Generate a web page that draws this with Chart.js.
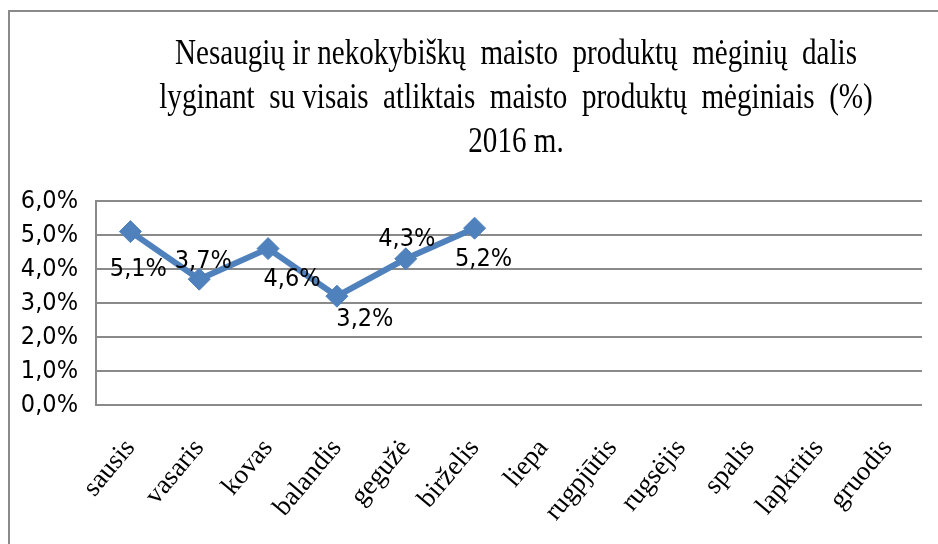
<!DOCTYPE html>
<html>
<head>
<meta charset="utf-8">
<script src="https://cdn.jsdelivr.net/npm/chart.js@4.4.1/dist/chart.umd.min.js"></script>
<style>
  body { margin: 0; background: #fff; }
  #wrap { width: 938px; height: 544px; position: relative; }
</style>
</head>
<body>
<div id="wrap"><canvas id="chart"></canvas></div>
<script>
// Months of 2016 (x axis)
var months = ['sausis', 'vasaris', 'kovas', 'balandis', 'gegužė', 'birželis',
  'liepa', 'rugpjūtis', 'rugsėjis', 'spalis', 'lapkritis', 'gruodis'];

// Share of unsafe / low-quality samples, % (only first half-year known)
var shares = [5.1, 3.7, 4.6, 3.2, 4.3, 5.2];

// Y axis range, %
var yMin = 0;
var yMax = 6;
var yStep = 1;

// Title lines
var titleLines = [
  'Nesaugių ir nekokybiškų  maisto  produktų  mėginių  dalis',
  'lyginant  su visais  atliktais  maisto  produktų  mėginiais  (%)',
  '2016 m.'
];

// where each value label sits relative to its point (dx, dy)
var labelShift = [[8, 38], [4, -18], [24, 31], [28, 23], [1, -19], [9, 31]];

var blue = '#4F81BD';
var gridGray = '#8a8a8a';
var narrow = "'Liberation Sans Narrow', 'DejaVu Sans Condensed', sans-serif";
var serif = "'Liberation Serif', 'Times New Roman', serif";

function pct(v) {
  return v.toFixed(1).replace('.', ',') + '%';
}

// outer frame + condensed title
var framePlugin = {
  id: 'frame',
  beforeDraw: function (chart) {
    var ctx = chart.ctx;
    ctx.save();
    ctx.fillStyle = '#fff';
    ctx.fillRect(0, 0, chart.width, chart.height);
    ctx.strokeStyle = gridGray;
    ctx.lineWidth = 2;
    ctx.beginPath();
    ctx.moveTo(9, chart.height);
    ctx.lineTo(9, 11);
    ctx.lineTo(chart.width, 11);
    ctx.stroke();

    ctx.font = '36px ' + serif;
    ctx.fillStyle = '#000';
    ctx.textAlign = 'center';
    ctx.textBaseline = 'alphabetic';
    var sx = 682 / ctx.measureText(titleLines[0]).width;
    var base = [64, 108, 152];
    for (var i = 0; i < titleLines.length; i++) {
      ctx.save();
      ctx.translate(516, base[i]);
      ctx.scale(sx, 1);
      ctx.fillText(titleLines[i], 0, 0);
      ctx.restore();
    }
    ctx.restore();
  }
};

// value labels next to the points
var valueLabels = {
  id: 'valueLabels',
  afterDatasetsDraw: function (chart) {
    var ctx = chart.ctx;
    var meta = chart.getDatasetMeta(0);
    ctx.save();
    ctx.font = '25px ' + narrow;
    ctx.fillStyle = '#000';
    ctx.textAlign = 'center';
    ctx.textBaseline = 'middle';
    meta.data.forEach(function (pt, i) {
      var s = labelShift[i] || [0, -20];
      ctx.fillText(pct(shares[i]), pt.x + s[0], pt.y + s[1]);
    });
    ctx.restore();
  }
};

new Chart(document.getElementById('chart'), {
  type: 'line',
  data: {
    labels: months,
    datasets: [{
      data: shares,
      borderColor: blue,
      backgroundColor: blue,
      borderWidth: 6,
      pointStyle: 'rectRot',
      pointRadius: 11,
      pointHoverRadius: 11,
      pointBorderWidth: 1,
      tension: 0
    }]
  },
  options: {
    responsive: true,
    maintainAspectRatio: false,
    animation: false,
    layout: { padding: { top: 201, right: 16, bottom: 0, left: 0 } },
    plugins: {
      legend: { display: false },
      title: { display: false },
      tooltip: { enabled: false }
    },
    scales: {
      x: {
        offset: true,
        grid: { display: false },
        border: { display: false },
        ticks: {
          autoSkip: false,
          minRotation: 50,
          maxRotation: 50,
          padding: 20,
          color: '#000',
          font: { family: serif, size: 27 }
        },
        afterFit: function (scale) { scale.height = 139; }
      },
      y: {
        min: yMin,
        max: yMax,
        grid: { color: gridGray, lineWidth: 2, drawTicks: false },
        border: { display: true, color: gridGray, width: 2 },
        ticks: {
          stepSize: yStep,
          padding: 18,
          color: '#000',
          font: { family: narrow, size: 25 },
          callback: function (v) { return pct(v); }
        },
        afterFit: function (scale) { scale.width = 96; }
      }
    }
  },
  plugins: [framePlugin, valueLabels]
});
</script>
</body>
</html>
